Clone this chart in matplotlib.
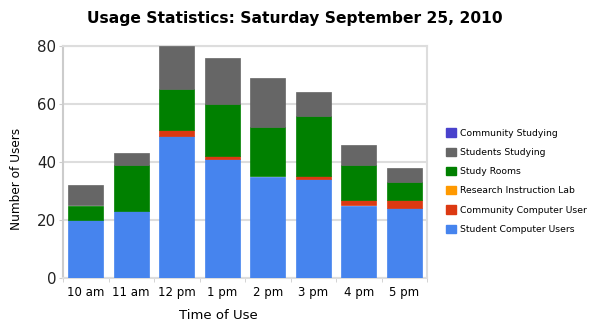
import matplotlib
matplotlib.use("Agg")
import matplotlib.pyplot as plt
from matplotlib.patches import Patch
import numpy as np

hours = ["10 am", "11 am", "12 pm", "1 pm", "2 pm", "3 pm", "4 pm", "5 pm"]

student_computer = [20, 23, 49, 41, 35, 34, 25, 24]
community_computer = [0, 0, 2, 1, 0, 1, 2, 3]
research_lab = [0, 0, 0, 0, 0, 0, 0, 0]
study_rooms = [5, 16, 14, 18, 17, 21, 12, 6]
students_studying = [7, 4, 15, 16, 17, 8, 7, 5]
community_studying = [0, 0, 0, 0, 0, 0, 0, 0]

series = [
    ("Student Computer Users", student_computer, "#4684ee"),
    ("Community Computer User", community_computer, "#dc3912"),
    ("Research Instruction Lab", research_lab, "#ff9900"),
    ("Study Rooms", study_rooms, "#008000"),
    ("Students Studying", students_studying, "#666666"),
    ("Community Studying", community_studying, "#4942cc"),
]

fig = plt.figure(figsize=(5.9, 3.32), dpi=100)
ax = fig.add_axes([63 / 590, 1 - 278 / 332, 364 / 590, 232 / 332])

x = np.arange(len(hours))
bottom = np.zeros(len(hours))
handles = []
for name, vals, col in series:
    vals = np.array(vals, dtype=float)
    nz = vals > 0  # empty segments would leave a hairline
    if nz.any():
        ax.bar(x[nz], vals[nz], 0.78, bottom=bottom[nz], color=col,
               edgecolor=col, linewidth=0.5, zorder=3)
    handles.append(Patch(color=col, label=name))
    bottom += vals

ax.set_xlim(-0.5, len(hours) - 0.5)
ax.set_ylim(0, 80)
ax.set_yticks([0, 20, 40, 60, 80])
ax.yaxis.grid(True, color="#dddddd", lw=1.5, zorder=0)
ax.set_xticks(x)
ax.set_xticklabels(hours, fontsize=8.5)
ax.set_xticks(np.arange(len(hours) + 1) - 0.5, minor=True)
ax.tick_params(axis="x", which="major", length=0, pad=6)
ax.tick_params(axis="x", which="minor", length=3, color="#cccccc")
ax.tick_params(axis="y", length=3, color="#cccccc", labelsize=10.8, pad=2,
               labelcolor="#222222")
for side in ["top", "right", "bottom"]:
    ax.spines[side].set_color("#dddddd")
    ax.spines[side].set_linewidth(1.5)
ax.spines["left"].set_color("#cccccc")
ax.spines["left"].set_linewidth(1.5)

ax.set_xlabel("Time of Use", fontsize=9.5)
ax.set_ylabel("Number of Users", fontsize=8.7)
ax.xaxis.set_label_coords(0.427, -0.133)
ax.yaxis.set_label_coords(-0.11, 0.427)

fig.text(0.5, 1 - 18 / 332, "Usage Statistics: Saturday September 25, 2010",
         ha="center", va="center", fontsize=11.2, fontweight="bold")

fig.legend(handles[::-1], [s[0] for s in series][::-1],
           loc="upper left", bbox_to_anchor=(438 / 590, 1 - 120 / 332),
           frameon=False, fontsize=6.65, handlelength=1.0,
           handleheight=1.0, handletextpad=0.45, labelspacing=1.08)

fig.savefig("out.png", dpi=100)
